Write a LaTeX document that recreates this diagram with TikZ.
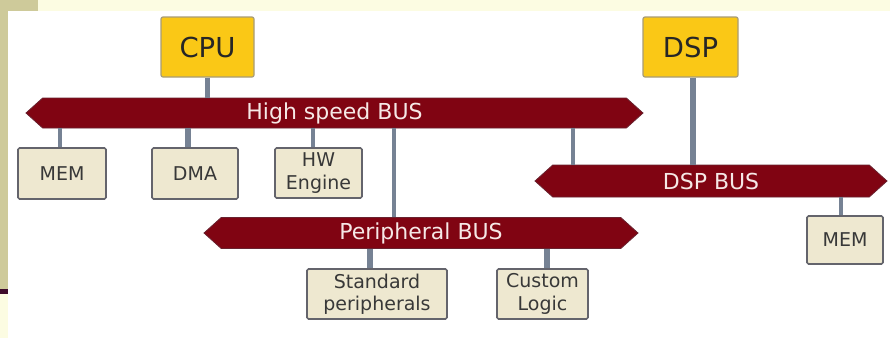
\documentclass[tikz,border=0pt]{standalone}
\usepackage{fontspec}
\setmainfont{DejaVu Sans}
\usetikzlibrary{shapes.symbols}
\definecolor{busred}{RGB}{128,4,18}
\definecolor{busedge}{RGB}{105,35,48}
\definecolor{bustext}{RGB}{246,232,230}
\definecolor{boxfill}{RGB}{238,232,208}
\definecolor{boxedge}{RGB}{100,100,108}
\definecolor{cpufill}{RGB}{250,200,22}
\definecolor{cpuedge}{RGB}{168,156,118}
\definecolor{linkgray}{RGB}{118,130,148}
\definecolor{pageyellow}{RGB}{252,252,226}
\definecolor{pageolive}{RGB}{206,202,154}
\definecolor{pageplum}{RGB}{62,10,42}
\begin{document}
\begin{tikzpicture}[
  x=1pt, y=-1pt,
  core/.style={draw=cpuedge,fill=cpufill,line width=1.2pt,rounded corners=2pt,inner sep=0pt,
    font=\fontsize{27.5}{32}\selectfont,text=black!85},
  unit/.style={draw=boxedge,fill=boxfill,line width=1.6pt,rounded corners=1.5pt,inner sep=0pt,
    align=center,font=\fontsize{19}{22.5}\selectfont,text=black!78},
  bus/.style={signal,signal to=west and east,signal pointer angle=84,draw=busedge,fill=busred,
    line width=0.8pt,inner sep=0pt,font=\fontsize{22}{26}\selectfont,text=bustext},
  link/.style={draw=linkgray,line width=4.5pt},
  thinlink/.style={draw=linkgray,line width=3.2pt},
  boldlink/.style={draw=linkgray,line width=6pt}
]
% page
\useasboundingbox (0,0) rectangle (890,338);
\fill[pageyellow] (0,0) rectangle (890,338);
\fill[white] (8,11) rectangle (890,338);
\fill[pageolive] (0,0) rectangle (38,11);
\fill[pageolive] (0,0) rectangle (8,289);
\fill[pageplum] (0,289) rectangle (8,294);

% buses
\node[bus,minimum width=617pt,minimum height=30pt] (hsbus) at (334.5,113) {High speed BUS};
\node[bus,minimum width=352pt,minimum height=32pt] (dspbus) at (711,181) {DSP BUS};
\node[bus,minimum width=434pt,minimum height=31pt] (pbus) at (421,233) {Peripheral BUS};

% masters
\node[core,minimum width=93pt,minimum height=60pt] (cpu) at (207.5,47) {CPU};
\node[core,minimum width=95pt,minimum height=60pt] (dsp) at (690.5,47) {DSP};

% slaves
\node[unit,minimum width=88pt,minimum height=51pt] (mema) at (62,173.5) {MEM};
\node[unit,minimum width=86pt,minimum height=51pt] (dma) at (195,173.5) {DMA};
\node[unit,minimum width=87pt,minimum height=50pt] (hweng) at (318.5,173) {HW\\Engine};
\node[unit,minimum width=140pt,minimum height=50pt] (stdper) at (377,294) {Standard\\peripherals};
\node[unit,minimum width=91pt,minimum height=50pt] (custom) at (542.5,294) {Custom\\Logic};
\node[unit,minimum width=76pt,minimum height=48pt] (memb) at (845,240) {MEM};

% bridges
\coordinate (tapp) at (394,0);
\coordinate (tapd) at (573,0);

% links
\draw[link] (cpu.south) -- (cpu.south |- hsbus.north);
\draw[boldlink] ([xshift=2.5pt]dsp.south) -- ([xshift=2.5pt]dsp.south |- dspbus.north);
\draw[thinlink] ([xshift=-2pt]mema.north) -- ([xshift=-2pt]mema.north |- hsbus.south);
\draw[boldlink] ([xshift=-7pt]dma.north) -- ([xshift=-7pt]dma.north |- hsbus.south);
\draw[thinlink] ([xshift=-5.5pt]hweng.north) -- ([xshift=-5.5pt]hweng.north |- hsbus.south);
\draw[link] (hsbus.south -| tapp) -- (pbus.north -| tapp);
\draw[thinlink] (dspbus.north -| tapd) -- (hsbus.south -| tapd);
\draw[thinlink] ([xshift=-4pt]memb.north) -- ([xshift=-4pt]memb.north |- dspbus.south);
\draw[boldlink] ([xshift=-7pt]stdper.north) -- ([xshift=-7pt]stdper.north |- pbus.south);
\draw[boldlink] ([xshift=4.5pt]custom.north) -- ([xshift=4.5pt]custom.north |- pbus.south);
\end{tikzpicture}
\end{document}
